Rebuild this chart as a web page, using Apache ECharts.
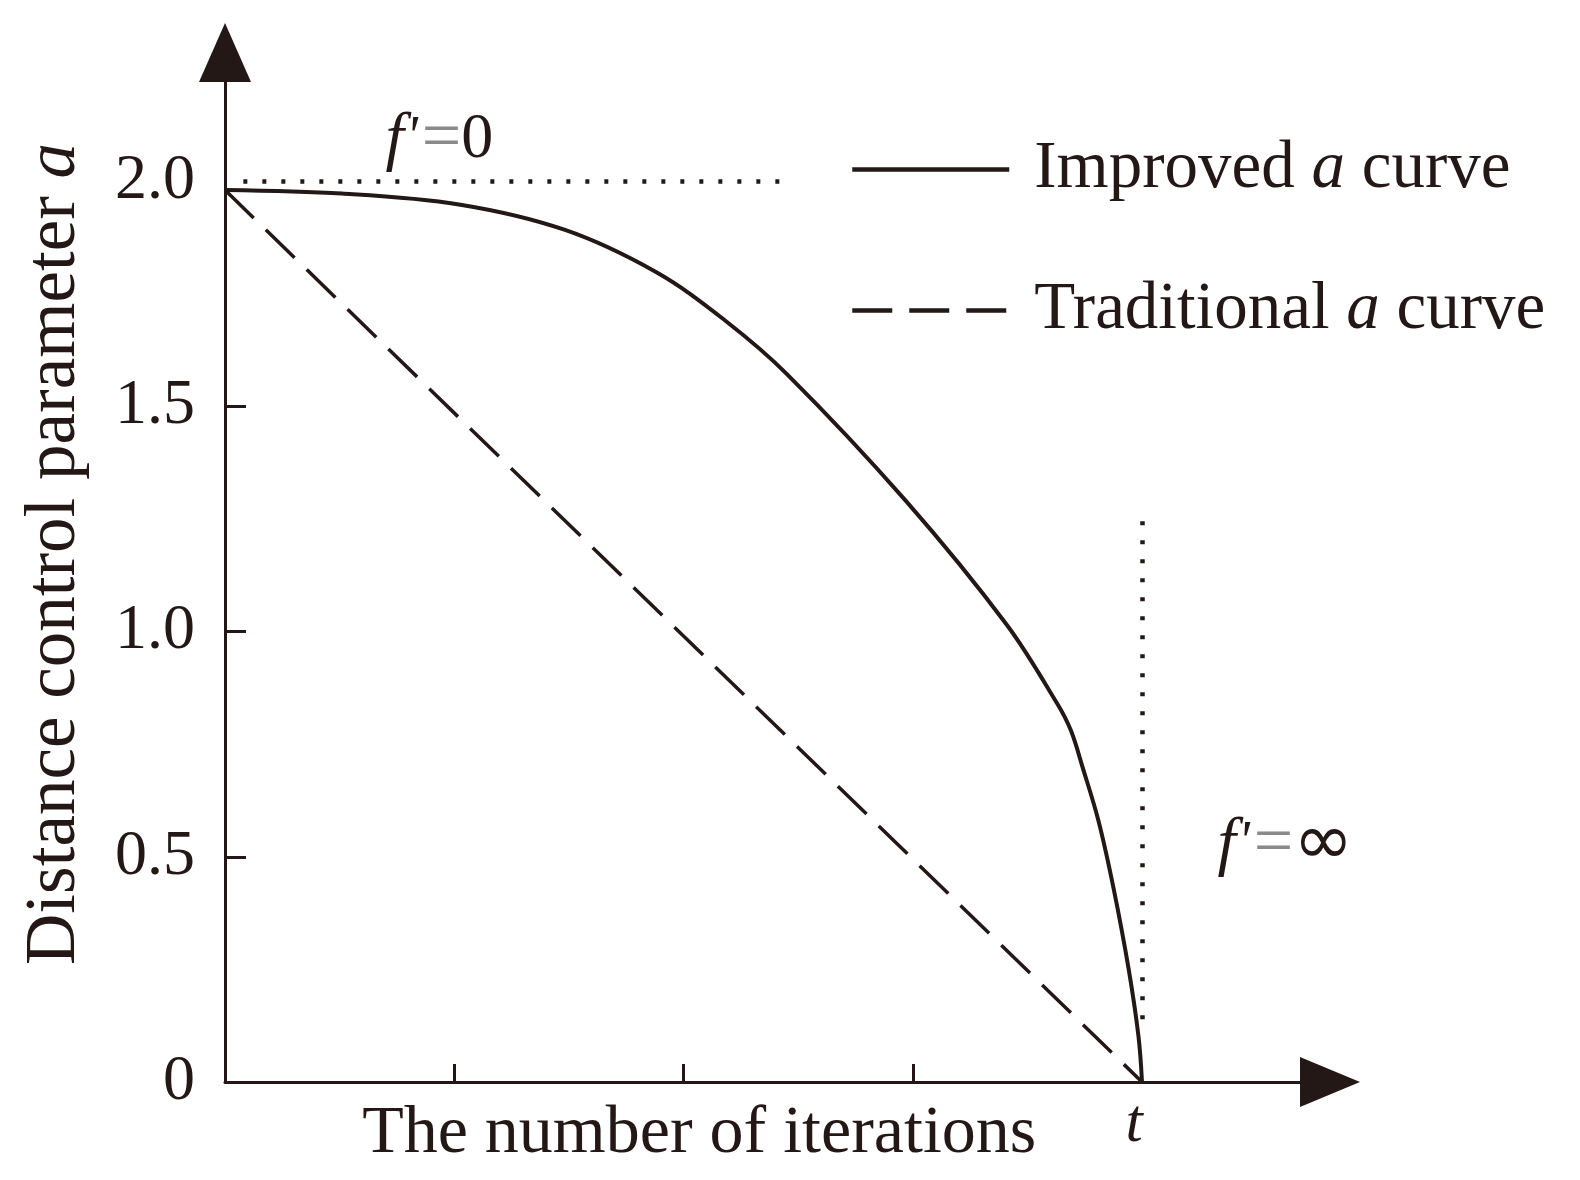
<!DOCTYPE html>
<html><head><meta charset="utf-8">
<script src="https://cdn.jsdelivr.net/npm/echarts@6/dist/echarts.min.js"></script>
<style>html,body{margin:0;padding:0;background:#fff}#c{width:1580px;height:1180px}</style>
</head><body><div id="c"></div>
<script>
// ---- data ----
const improvedX = [0, 0.51, 1.02, 1.48, 1.88, 2.18, 2.45, 2.97, 3.41, 3.63, 3.69, 3.74, 3.81, 3.876, 3.942, 3.985, 4.0];
const improvedY = [1.98, 1.972, 1.948, 1.892, 1.798, 1.691, 1.572, 1.29, 1.015, 0.84, 0.78, 0.70, 0.58, 0.43, 0.25, 0.10, 0];
const traditionalX = [0, 4];
const traditionalY = [1.98, 0];
const yTickValues = [0, 0.5, 1, 1.5, 2];
const yTickLabels = ['0', '0.5', '1.0', '1.5', '2.0'];
const yTickMarks = [0.5, 1, 1.5];
const xTickMarks = [1, 2, 3];
const xLabelValues = [4];
const xLabels = ['t'];
const seriesNames = ['Improved a curve', 'Traditional a curve'];
const asymptoteH = [[0.08, 2.0], [2.44, 2.0]];
const asymptoteV = [[4, 1.245], [4, 0.12]];
const note0 = [0.935, 2.09];
const noteInf = [4.625, 0.525];

const INK = '#231815';
const FONT = '"Liberation Serif", "Times New Roman", serif';
const zip = (xs, ys) => xs.map((x, i) => [x, ys[i]]);

const chart = echarts.init(document.getElementById('c'), null, {renderer: 'canvas'});
const richBase = {
  t: {fontFamily: FONT, fontSize: 67, color: INK, lineHeight: 80},
  i: {fontFamily: FONT, fontSize: 67, color: INK, fontStyle: 'italic', lineHeight: 80}
};
const noteRich = {
  i: {fontFamily: FONT, fontSize: 66, color: INK, fontStyle: 'italic', lineHeight: 76},
  p: {fontFamily: FONT, fontSize: 56, color: INK, fontStyle: 'italic', lineHeight: 76, padding: [0, 4, 0, 2]},
  g: {fontFamily: FONT, fontSize: 70, color: '#8a8a8a', lineHeight: 76},
  n: {fontFamily: FONT, fontSize: 64, color: INK, lineHeight: 76},
  inf: {fontFamily: '"DejaVu Sans", sans-serif', fontSize: 72, color: INK, lineHeight: 76}
};
const legendFmt = n => {
  const parts = n.split(' a ');
  return '{t|' + parts[0] + ' }{i|a}{t| ' + parts[1] + '}';
};

chart.setOption({
  animation: false,
  backgroundColor: '#fff',
  grid: {left: 225, right: 254.6, top: 45.85, bottom: 98, containLabel: false, outerBoundsMode: 'none'},
  legend: {
    orient: 'vertical', left: 845, top: 131, itemWidth: 157, itemHeight: 30, itemGap: 74,
    data: seriesNames,
    formatter: legendFmt,
    itemStyle: {opacity: 0},
    lineStyle: {width: 4.5},
    textStyle: {fontFamily: FONT, fontSize: 67, color: INK, padding: [0, 0, 0, 20], rich: richBase},
    selectedMode: false
  },
  xAxis: {
    type: 'value', min: 0, max: 4.8,
    name: '{t|The number of iterations}', nameLocation: 'middle', nameGap: 12, nameMoveOverlap: false,
    nameTextStyle: {padding: [0, 152, 0, 0], rich: {t: {fontFamily: FONT, fontSize: 68, color: INK, lineHeight: 80}}},
    axisLine: {show: true, lineStyle: {color: INK, width: 3}, symbol: ['none', 'triangle'], symbolSize: [50, 60], symbolOffset: [0, 4.6]},
    axisTick: {show: true, inside: true, length: 18, lineStyle: {color: INK, width: 3}, customValues: xTickMarks},
    axisLabel: {show: true, margin: 12, fontFamily: FONT, fontSize: 62, fontStyle: 'italic', color: INK,
      padding: [0, 16, 0, 0],
      customValues: xLabelValues, formatter: v => xLabels[xLabelValues.indexOf(v)] ?? ''},
    splitLine: {show: false}
  },
  yAxis: {
    type: 'value', min: 0, max: 2.3,
    name: '{t|Distance control parameter }{i|a}', nameLocation: 'middle', nameGap: 129, nameMoveOverlap: false,
    nameTextStyle: {padding: [0, 0, 0, 20], rich: {
      t: {fontFamily: FONT, fontSize: 71, color: INK, lineHeight: 82},
      i: {fontFamily: FONT, fontSize: 71, color: INK, fontStyle: 'italic', lineHeight: 82}}},
    axisLine: {show: true, lineStyle: {color: INK, width: 3}, symbol: ['none', 'triangle'], symbolSize: [52, 59], symbolOffset: [0, -6.65]},
    axisTick: {show: true, inside: true, length: 21, lineStyle: {color: INK, width: 3}, customValues: yTickMarks},
    axisLabel: {show: true, margin: 30, fontFamily: FONT, fontSize: 64, color: INK, padding: [6, 0, 0, 0],
      customValues: yTickValues, formatter: v => yTickLabels[yTickValues.indexOf(v)] ?? ''},
    splitLine: {show: false}
  },
  series: [
    {
      name: seriesNames[0], type: 'line', data: zip(improvedX, improvedY), symbol: 'none',
      smooth: 0.35,
      lineStyle: {color: INK, width: 4}, itemStyle: {color: INK}, z: 3,
      markPoint: {
        symbol: 'circle', symbolSize: 0, silent: true,
        label: {show: true, position: 'inside', rich: noteRich},
        data: [
          {coord: note0, label: {formatter: "{i|f}{p|'}{g|=}{n|0}"}},
          {coord: noteInf, label: {formatter: "{i|f}{p|'}{g|=}{inf|∞}"}}
        ]
      }
    },
    {
      name: seriesNames[1], type: 'line', data: zip(traditionalX, traditionalY), symbol: 'none',
      lineStyle: {color: INK, width: 3.5, type: [40, 17]}, itemStyle: {color: INK}, z: 2,
      markLine: {
        symbol: ['none', 'none'], silent: true, label: {show: false},
        lineStyle: {color: INK, width: 4.5, type: [4, 15]},
        emphasis: {disabled: true},
        data: [
          [{coord: asymptoteH[0]}, {coord: asymptoteH[1]}],
          [{coord: asymptoteV[0]}, {coord: asymptoteV[1]}]
        ]
      }
    }
  ]
});
</script></body></html>
